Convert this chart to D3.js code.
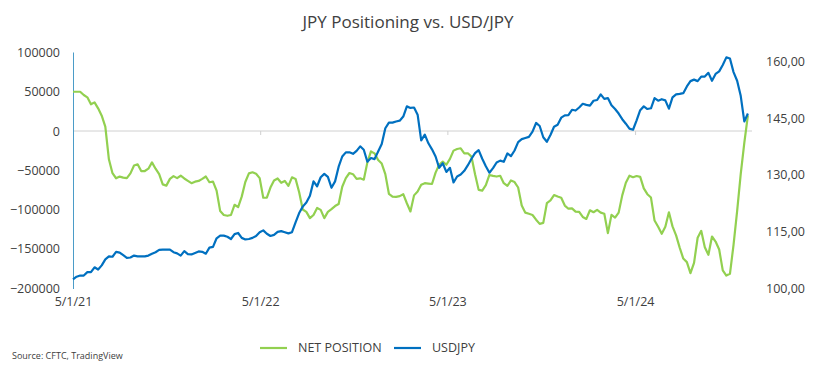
<!DOCTYPE html>
<html>
<head>
<meta charset="utf-8">
<script src="https://cdn.jsdelivr.net/npm/d3@7"></script>
<style>
  body { margin: 0; background: #fff; }
  text { font-family: "Open Sans", sans-serif; fill: #404040; }
</style>
</head>
<body>
<script>
// weekly CFTC readings, first week = 5/1/21
var startDate = new Date(2021, 4, 1);

var netPosition = [
	50000, 50000, 50000, 45800, 42900, 34000, 36500, 28900, 19500, 5500,
	-36000, -53800, -60200, -58100, -59400, -60000, -54000, -44000, -42400, -51000,
	-51000, -48000, -40000, -48000, -55000, -68000, -69600, -61000, -57500, -60000,
	-57000, -60500, -63500, -66500, -64500, -63600, -61000, -58000, -65300, -64500,
	-76000, -102000, -107000, -108000, -107000, -94000, -97000, -83600, -65000, -54000,
	-52600, -54500, -60000, -85000, -85000, -72000, -63000, -60500, -66000, -63600,
	-70000, -59000, -61000, -78000, -100000, -103000, -111000, -107000, -98000, -100500,
	-111000, -103000, -99500, -95600, -93000, -71000, -60000, -53500, -55000, -61000,
	-60300, -62000, -40000, -26000, -28500, -37000, -41500, -55000, -80000, -83500,
	-84000, -83000, -80500, -92000, -102500, -82000, -77000, -68500, -66500, -67000,
	-67500, -53000, -43000, -39000, -43000, -35500, -25000, -22900, -22000, -28400,
	-28400, -32700, -55000, -75000, -75900, -69000, -56000, -57200, -58000, -57000,
	-66500, -70000, -63000, -65000, -72000, -95000, -104000, -105500, -107000, -113000,
	-118300, -117000, -92000, -88500, -81600, -83500, -85000, -95000, -99000, -98500,
	-102700, -103000, -109500, -112000, -101000, -103500, -100500, -104000, -105500, -130100,
	-106800, -110300, -104000, -82000, -66000, -57000, -58900, -57300, -58500, -73000,
	-80500, -84800, -114100, -122000, -131000, -122000, -103500, -121500, -133000, -148500,
	-162500, -167000, -181000, -168000, -136000, -127200, -148000, -157700, -134400, -140800,
	-151000, -177500, -184100, -182000, -145000, -102000, -55000, -15000, 20000
];

var usdjpy = [
	102.3, 103.0, 103.3, 103.3, 104.2, 104.2, 105.5, 104.9, 106.0, 107.6,
	108.4, 108.3, 109.6, 109.4, 108.7, 108.0, 108.1, 108.6, 108.4, 108.4,
	108.4, 108.6, 109.1, 109.5, 110.1, 110.2, 110.2, 110.2, 109.5, 109.2,
	108.6, 109.8, 109.0, 108.9, 109.3, 109.7, 109.6, 109.1, 110.7, 110.9,
	113.2, 113.9, 113.9, 113.6, 113.0, 114.3, 114.6, 113.3, 112.9, 113.0,
	113.3, 113.8, 114.8, 115.3, 114.4, 113.8, 114.1, 114.9, 115.1, 114.8,
	114.5, 114.8, 117.4, 119.9, 121.6, 122.7, 124.5, 128.3, 127.0, 129.4,
	130.3, 129.5, 126.6, 128.3, 132.2, 134.9, 136.0, 136.0, 135.6, 136.4,
	137.6, 136.7, 133.5, 134.5, 134.2, 136.2, 138.2, 142.4, 143.9, 143.9,
	144.2, 144.4, 145.5, 148.2, 147.8, 147.9, 146.0, 139.2, 140.7, 138.4,
	136.8, 134.9, 131.9, 133.1, 130.8, 131.9, 128.0, 129.6, 130.1, 131.1,
	132.6, 134.3, 135.8, 136.6, 134.3, 132.3, 130.6, 131.8, 133.3, 133.8,
	133.5, 135.7, 135.0, 136.5, 138.7, 139.5, 139.8, 140.1, 141.5, 143.8,
	143.0, 140.0, 138.8, 140.6, 142.8, 143.3, 145.2, 145.8, 145.9, 147.3,
	147.1, 147.9, 148.9, 148.6, 148.4, 149.7, 149.9, 151.4, 150.2, 150.4,
	148.5, 147.5, 146.3, 144.8, 143.6, 142.3, 142.0, 144.5, 147.2, 148.2,
	147.5, 147.7, 150.4, 149.7, 150.1, 149.8, 147.6, 150.6, 151.4, 151.5,
	151.7, 153.5, 154.9, 155.3, 154.9, 156.1, 156.1, 157.1, 155.0, 156.8,
	157.5, 159.2, 161.2, 160.9, 157.3, 155.0, 151.0, 144.2, 146.3
];

var leftTicks = [100000, 50000, 0, -50000, -100000, -150000, -200000];
var rightTicks = [100, 115, 130, 145, 160];
var dateTicks = ["2021-05-01", "2022-05-01", "2023-05-01", "2024-05-01"];
var seriesNames = ["NET POSITION", "USDJPY"];
var seriesColors = ["#92d050", "#0070c0"];

var width = 828,
	height = 375;

var parseDate = d3.timeParse("%Y-%m-%d");

var dates = netPosition.map(function(d, i) {
	return d3.timeDay.offset(startDate, i * 7);
});

var svg = d3.select("body").append("svg")
	.attr("width", width)
	.attr("height", height);

var x = d3.scaleTime()
	.domain([startDate, new Date(2024, 11, 15)])
	.range([73, 752]);

var yLeft = d3.scaleLinear()
	.domain([-200000, 100000])
	.range([288, 52.5]);

var yRight = d3.scaleLinear()
	.domain([100, 162.5])
	.range([288, 52.5]);

// title
svg.append("text")
	.attr("x", 408)
	.attr("y", 28)
	.attr("text-anchor", "middle")
	.style("font-size", "17px")
	.text("JPY Positioning vs. USD/JPY");

// left axis labels
svg.append("g")
	.attr("transform", "translate(73,0)")
	.call(d3.axisLeft(yLeft).tickValues(leftTicks).tickSize(0).tickPadding(13).tickFormat(d3.format("d")))
	.call(function(g) {
		g.select(".domain").remove();
		g.selectAll("text").style("font-size", "12.5px").attr("fill", "#404040");
	});

// right axis labels
svg.append("g")
	.attr("transform", "translate(752,0)")
	.call(d3.axisRight(yRight).tickValues(rightTicks).tickSize(0).tickPadding(14)
		.tickFormat(function(d) { return d3.format(".2f")(d).replace(".", ","); }))
	.call(function(g) {
		g.select(".domain").remove();
		g.selectAll("text").style("font-size", "12.5px").attr("fill", "#404040");
	});

// zero line with small ticks
svg.append("line")
	.attr("x1", 73).attr("x2", 752)
	.attr("y1", yLeft(0)).attr("y2", yLeft(0))
	.attr("stroke", "#d0d0d0")
	.attr("stroke-width", 1);

svg.append("g")
	.attr("transform", "translate(0," + yLeft(0) + ")")
	.call(d3.axisBottom(x).tickValues(dateTicks.slice(1).map(parseDate))
		.tickSize(4).tickFormat(""))
	.call(function(g) {
		g.select(".domain").remove();
		g.selectAll("line").attr("stroke", "#d0d0d0");
	});

// date labels at the bottom
svg.append("g")
	.attr("transform", "translate(0,289)")
	.call(d3.axisBottom(x).tickValues(dateTicks.map(parseDate))
		.tickSize(0).tickPadding(8).tickFormat(d3.timeFormat("%-m/%-d/%y")))
	.call(function(g) {
		g.select(".domain").remove();
		g.selectAll("text").style("font-size", "12.5px").attr("fill", "#404040");
	});

// left axis line
svg.append("line")
	.attr("x1", 73.5).attr("x2", 73.5)
	.attr("y1", 52.5).attr("y2", 289)
	.attr("stroke", "#4b9cc8")
	.attr("stroke-width", 1);

var lineNet = d3.line()
	.x(function(d, i) { return x(dates[i]); })
	.y(function(d) { return yLeft(d); });

var lineFx = d3.line()
	.x(function(d, i) { return x(dates[i]); })
	.y(function(d) { return yRight(d); });

svg.append("path")
	.datum(netPosition)
	.attr("fill", "none")
	.attr("stroke", seriesColors[0])
	.attr("stroke-width", 2.2)
	.attr("stroke-linejoin", "round")
	.attr("d", lineNet);

svg.append("path")
	.datum(usdjpy)
	.attr("fill", "none")
	.attr("stroke", seriesColors[1])
	.attr("stroke-width", 2.2)
	.attr("stroke-linejoin", "round")
	.attr("d", lineFx);

// legend
var legend = svg.selectAll(".legend").data(seriesNames)
	.enter().append("g")
	.attr("class", "legend")
	.attr("transform", function(d, i) { return "translate(" + (i === 0 ? 260 : 394) + ",348)"; });

legend.append("line")
	.attr("x1", 0).attr("x2", 27)
	.attr("y1", 0).attr("y2", 0)
	.attr("stroke", function(d, i) { return seriesColors[i]; })
	.attr("stroke-width", 2.2);

legend.append("text")
	.attr("x", 38)
	.attr("dy", "0.35em")
	.style("font-size", "12.5px")
	.text(function(d) { return d; });

// source
svg.append("text")
	.attr("x", 12)
	.attr("y", 359)
	.style("font-size", "9px")
	.text("Source: CFTC, TradingView");
</script>
</body>
</html>
